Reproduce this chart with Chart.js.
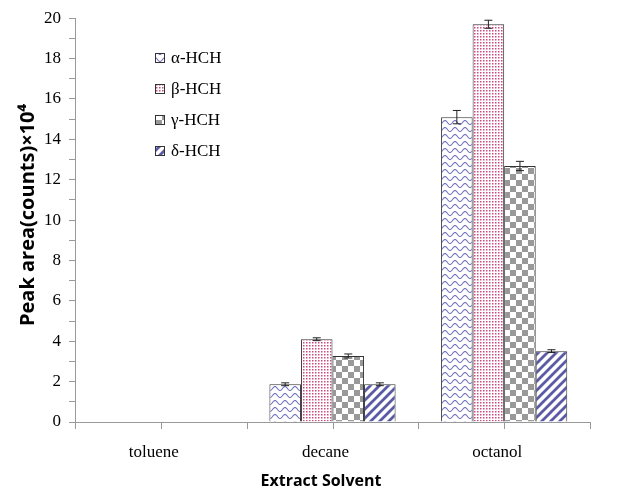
<!DOCTYPE html>
<html>
<head>
<meta charset="utf-8">
<script src="https://cdn.jsdelivr.net/npm/chart.js@4/dist/chart.umd.min.js"></script>
<style>
  html, body { margin: 0; padding: 0; background: #fff; }
  #chart { display: block; }
</style>
</head>
<body>
<canvas id="chart" width="617" height="489"></canvas>
<script>
const solvents = ['toluene', 'decane', 'octanol'];
const seriesNames = ['α-HCH', 'β-HCH', 'γ-HCH', 'δ-HCH'];
const alphaHCH = [0, 1.87, 15.1];
const betaHCH = [0, 4.1, 19.7];
const gammaHCH = [0, 3.27, 12.68];
const deltaHCH = [0, 1.87, 3.51];
const alphaErr = [0, 0.07, 0.33];
const betaErr = [0, 0.07, 0.2];
const gammaErr = [0, 0.1, 0.23];
const deltaErr = [0, 0.07, 0.07];

function makePattern(w, h, draw) {
  const c = document.createElement('canvas');
  c.width = w; c.height = h;
  const g = c.getContext('2d');
  g.fillStyle = '#fff';
  g.fillRect(0, 0, w, h);
  draw(g);
  return document.getElementById('chart').getContext('2d').createPattern(c, 'repeat');
}

const wavePattern = makePattern(10, 7, g => {
  g.strokeStyle = '#7474c0';
  g.lineWidth = 1.1;
  g.beginPath();
  for (let x = 0; x <= 10; x += 0.5) {
    const y = 3.5 + 2 * Math.cos(x / 10 * Math.PI * 2);
    if (x === 0) g.moveTo(x, y); else g.lineTo(x, y);
  }
  g.stroke();
});

const dotPattern = makePattern(3, 3, g => {
  g.fillStyle = '#cc4a80';
  g.fillRect(0, 0, 1.5, 1.5);
});

const checkPattern = makePattern(12, 12, g => {
  g.fillStyle = '#999';
  g.fillRect(0, 0, 6, 6);
  g.fillRect(6, 6, 6, 6);
});

const stripePattern = makePattern(9, 9, g => {
  g.strokeStyle = '#5a5aa6';
  g.lineWidth = 2.8;
  g.beginPath();
  g.moveTo(-1, 10); g.lineTo(10, -1);
  g.moveTo(-2, 2); g.lineTo(2, -2);
  g.moveTo(7, 11); g.lineTo(11, 7);
  g.stroke();
});

const fills = [wavePattern, dotPattern, checkPattern, stripePattern];
const values = [alphaHCH, betaHCH, gammaHCH, deltaHCH];
const errors = [alphaErr, betaErr, gammaErr, deltaErr];

const extras = {
  id: 'extras',
  afterDatasetsDraw(chart) {
    const { ctx } = chart;
    const x = chart.scales.x, y = chart.scales.y;
    ctx.save();
    // error bars
    ctx.strokeStyle = '#222';
    ctx.lineWidth = 1;
    chart.data.datasets.forEach((ds, i) => {
      const meta = chart.getDatasetMeta(i);
      meta.data.forEach((bar, j) => {
        const e = errors[i][j];
        if (!ds.data[j]) return;
        const top = y.getPixelForValue(ds.data[j] + e);
        const bot = y.getPixelForValue(ds.data[j] - e);
        ctx.beginPath();
        ctx.moveTo(bar.x, top); ctx.lineTo(bar.x, bot);
        ctx.moveTo(bar.x - 4, top); ctx.lineTo(bar.x + 4, top);
        ctx.moveTo(bar.x - 4, bot); ctx.lineTo(bar.x + 4, bot);
        ctx.stroke();
      });
    });
    // x tick marks at centers and boundaries
    ctx.strokeStyle = '#999';
    const half = (x.getPixelForValue(1) - x.getPixelForValue(0)) / 2;
    const base = y.getPixelForValue(0);
    for (let j = 0; j < solvents.length; j++) {
      const c = x.getPixelForValue(j);
      [c - half, c, c + half].forEach(px => {
        ctx.beginPath();
        ctx.moveTo(Math.round(px) + 0.5, base);
        ctx.lineTo(Math.round(px) + 0.5, base + 7);
        ctx.stroke();
      });
    }
    // legend
    ctx.font = '17px "Liberation Serif", serif';
    ctx.textBaseline = 'middle';
    ctx.textAlign = 'left';
    seriesNames.forEach((name, i) => {
      const ly = 58 + i * 31;
      ctx.fillStyle = fills[i];
      ctx.fillRect(155, ly - 5, 10, 10);
      ctx.strokeStyle = '#333';
      ctx.strokeRect(155.5, ly - 4.5, 9, 9);
      ctx.fillStyle = '#000';
      ctx.fillText(name, 171, ly + 1);
    });
    // axis titles
    ctx.font = 'bold 16px "Open Sans", sans-serif';
    ctx.textAlign = 'center';
    ctx.fillText('Extract Solvent', 321, 481);
    ctx.save();
    ctx.translate(28, 215);
    ctx.rotate(-Math.PI / 2);
    ctx.font = 'bold 20px "Open Sans", sans-serif';
    ctx.fillText('Peak area(counts)×10⁴', 0, 0);
    ctx.restore();
    ctx.restore();
  }
};

new Chart(document.getElementById('chart'), {
  type: 'bar',
  data: {
    labels: solvents,
    datasets: seriesNames.map((name, i) => ({
      label: name,
      data: values[i],
      backgroundColor: fills[i],
      borderColor: '#333',
      borderWidth: 1,
      categoryPercentage: 0.735,
      barPercentage: 1
    }))
  },
  options: {
    responsive: false,
    animation: false,
    devicePixelRatio: 1,
    layout: { padding: { top: 18, right: 27, left: 0, bottom: 0 } },
    plugins: { legend: { display: false }, tooltip: { enabled: false } },
    scales: {
      x: {
        grid: { display: false },
        border: { color: '#999' },
        ticks: {
          color: '#000',
          font: { family: 'Liberation Serif', size: 17 },
          padding: 12,
          labelOffset: -7
        },
        afterFit(s) { s.height = 67; }
      },
      y: {
        min: 0, max: 20,
        grid: { drawOnChartArea: false, tickLength: 6, color: '#999' },
        border: { color: '#999' },
        ticks: {
          stepSize: 1,
          autoSkip: false,
          color: '#000',
          font: { family: 'Liberation Serif', size: 17 },
          padding: 8,
          callback: v => (v % 2 === 0 ? v : '')
        },
        afterFit(s) { s.width = 75; }
      }
    }
  },
  plugins: [extras]
});
</script>
</body>
</html>
